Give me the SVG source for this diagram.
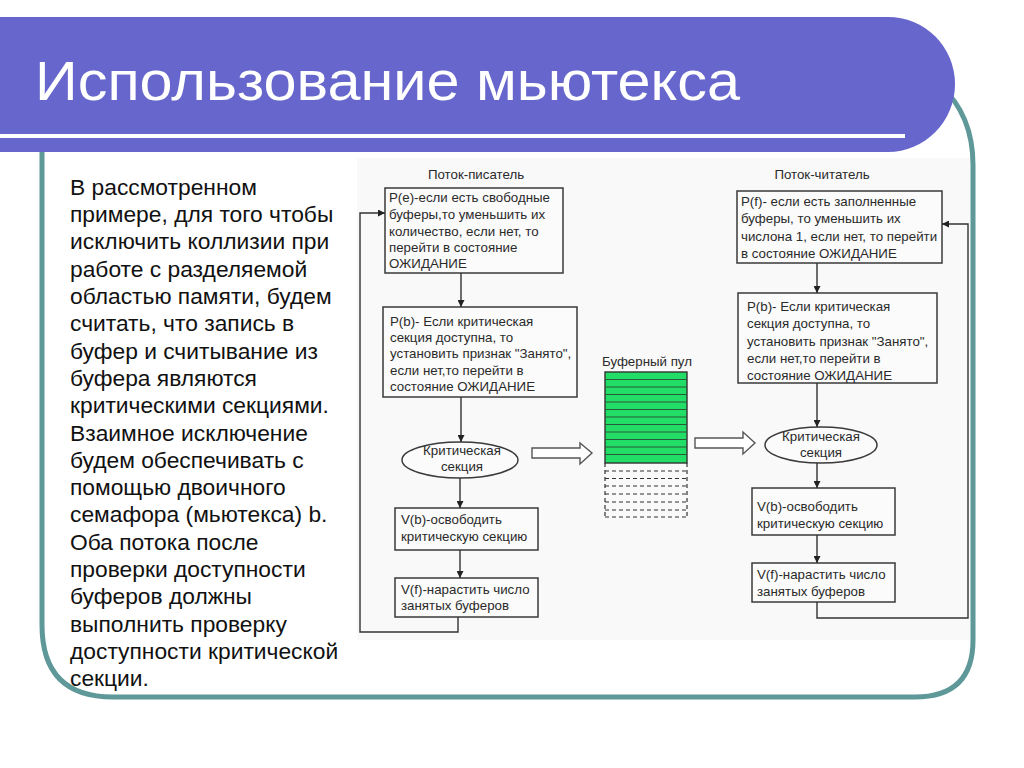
<svg xmlns="http://www.w3.org/2000/svg" width="1024" height="768" viewBox="0 0 1024 768">
<defs>
<style>
.body{font-family:"Liberation Sans",Arial,sans-serif;font-size:22.8px;fill:#111}
.t{font-family:"Liberation Sans",Arial,sans-serif;font-size:13.3px;fill:#2a2a2a}
.box{fill:#fbfbfb;stroke:#3a3a3a;stroke-width:1.5}
.ln{fill:none;stroke:#333;stroke-width:1.4}
.blk{fill:#fff;stroke:#555;stroke-width:1.4}
.dash{stroke:#333;stroke-width:1.2;stroke-dasharray:4,3;fill:none}
</style>
<marker id="ah" viewBox="0 0 10 10" refX="10" refY="5" markerWidth="7" markerHeight="7" markerUnits="userSpaceOnUse" orient="auto">
<path d="M0,0 L10,5 L0,10 Z" fill="#222"/>
</marker>
</defs>
<rect width="1024" height="768" fill="#fff"/>
<g id="frame">
<path d="M42,152 L42,625 Q42,697 113,697 L915,697 Q973,697 973,640 L973,165 Q973,115 940,85" fill="none" stroke="#5f9898" stroke-width="5"/>
</g>
<g id="banner">
<path d="M0,17 L888,17 A67,67 0 0 1 955,84 A67,68 0 0 1 888,152 L0,152 Z" fill="#6666cc"/>
<rect x="0" y="134" width="905" height="4" fill="#fff"/>
<text x="35" y="100" font-family="'Liberation Sans',Arial,sans-serif" font-size="55" fill="#fff" textLength="705" lengthAdjust="spacingAndGlyphs">Использование мьютекса</text>
</g>
<g id="bodytext" class="body">
<text x="70" y="195">В рассмотренном</text>
<text x="70" y="222">примере, для того чтобы</text>
<text x="70" y="249">исключить коллизии при</text>
<text x="70" y="277">работе с разделяемой</text>
<text x="70" y="304">областью памяти, будем</text>
<text x="70" y="331">считать, что запись в</text>
<text x="70" y="359">буфер и считывание из</text>
<text x="70" y="386">буфера являются</text>
<text x="70" y="413">критическими секциями.</text>
<text x="70" y="441">Взаимное исключение</text>
<text x="70" y="468">будем обеспечивать с</text>
<text x="70" y="495">помощью двоичного</text>
<text x="70" y="522">семафора (мьютекса) b.</text>
<text x="70" y="550">Оба потока после</text>
<text x="70" y="577">проверки доступности</text>
<text x="70" y="604">буферов должны</text>
<text x="70" y="632">выполнить проверку</text>
<text x="70" y="659">доступности критической</text>
<text x="70" y="686">секции.</text>
</g>
<rect x="357" y="158" width="613" height="482" fill="#f9f9f9"/>
<g id="headers" class="t">
<text x="476" y="179" text-anchor="middle">Поток-писатель</text>
<text x="822" y="179" text-anchor="middle">Поток-читатель</text>
</g>
<g id="w1">
<rect class="box" x="385" y="188" width="178" height="85"/>
<text class="t"><tspan x="389" y="202">P(e)-если есть свободные</tspan><tspan x="389" y="219">буферы,то уменьшить их</tspan><tspan x="389" y="236">количество, если нет, то</tspan><tspan x="389" y="252">перейти в состояние</tspan><tspan x="389" y="268">ОЖИДАНИЕ</tspan></text>
</g>
<g id="w2">
<rect class="box" x="383" y="307" width="194" height="90"/>
<text class="t"><tspan x="390" y="326">P(b)- Если критическая</tspan><tspan x="390" y="342">секция доступна, то</tspan><tspan x="390" y="358">установить признак "Занято",</tspan><tspan x="390" y="375">если нет,то перейти в</tspan><tspan x="390" y="391">состояние ОЖИДАНИЕ</tspan></text>
</g>
<g id="w3">
<ellipse cx="460" cy="460" rx="58" ry="18" fill="#fbfbfb" stroke="#3a3a3a" stroke-width="1.5"/>
<text class="t" text-anchor="middle"><tspan x="462" y="455">Критическая</tspan><tspan x="462" y="471">секция</tspan></text>
</g>
<g id="w4">
<rect class="box" x="395" y="508" width="143" height="42"/>
<text class="t"><tspan x="401" y="524">V(b)-освободить</tspan><tspan x="401" y="541">критическую секцию</tspan></text>
</g>
<g id="w5">
<rect class="box" x="395" y="578" width="143" height="39"/>
<text class="t"><tspan x="401" y="594">V(f)-нарастить число</tspan><tspan x="401" y="610">занятых буферов</tspan></text>
</g>
<g id="pool">
<text class="t" x="647" y="366" text-anchor="middle">Буферный пул</text>
<rect x="605" y="372" width="82" height="91" fill="#22dd66" stroke="#333" stroke-width="1.4"/>
<path d="M605,379.5H687M605,387H687M605,394.5H687M605,402H687M605,409.5H687M605,417H687M605,424.5H687M605,432H687M605,439.5H687M605,447H687M605,454.5H687" stroke="#2a5a36" stroke-width="1.2"/>
<path class="dash" d="M605,471H687M605,478.5H687M605,486H687M605,494H687M605,502H687M605,510H687M605,517H687M605,463V517M687,463V517"/>
</g>
<g id="r1">
<rect class="box" x="737" y="191" width="205" height="72"/>
<text class="t"><tspan x="741" y="206">P(f)- если есть заполненные</tspan><tspan x="741" y="223">буферы, то уменьшить их</tspan><tspan x="741" y="241">числона 1, если нет, то перейти</tspan><tspan x="741" y="258">в состояние ОЖИДАНИЕ</tspan></text>
</g>
<g id="r2">
<rect class="box" x="738" y="293" width="199" height="90"/>
<text class="t"><tspan x="747" y="311">P(b)- Если критическая</tspan><tspan x="747" y="328">секция доступна, то</tspan><tspan x="747" y="346">установить признак "Занято",</tspan><tspan x="747" y="363">если нет,то перейти в</tspan><tspan x="747" y="380">состояние ОЖИДАНИЕ</tspan></text>
</g>
<g id="r3">
<ellipse cx="821" cy="445" rx="56" ry="18" fill="#fbfbfb" stroke="#3a3a3a" stroke-width="1.5"/>
<text class="t" text-anchor="middle"><tspan x="821" y="441">Критическая</tspan><tspan x="821" y="457">секция</tspan></text>
</g>
<g id="r4">
<rect class="box" x="752" y="488" width="143" height="47"/>
<text class="t"><tspan x="757" y="511">V(b)-освободить</tspan><tspan x="757" y="528">критическую секцию</tspan></text>
</g>
<g id="r5">
<rect class="box" x="752" y="563" width="143" height="39"/>
<text class="t"><tspan x="757" y="579">V(f)-нарастить число</tspan><tspan x="757" y="596">занятых буферов</tspan></text>
</g>
<g id="connectors">
<path class="ln" d="M461,273V307" marker-end="url(#ah)"/>
<path class="ln" d="M461,397V442" marker-end="url(#ah)"/>
<path class="ln" d="M460,478V508" marker-end="url(#ah)"/>
<path class="ln" d="M460,550V578" marker-end="url(#ah)"/>
<path class="ln" d="M458,617V632H360V213H385" marker-end="url(#ah)"/>
<path class="ln" d="M817,263V293" marker-end="url(#ah)"/>
<path class="ln" d="M817,383V427" marker-end="url(#ah)"/>
<path class="ln" d="M817,463V488" marker-end="url(#ah)"/>
<path class="ln" d="M817,535V563" marker-end="url(#ah)"/>
<path class="ln" d="M817,602V618H968V224H942" marker-end="url(#ah)"/>
<path class="blk" d="M532,448H580V443L592,453L580,464V458H532Z"/>
<path class="blk" d="M695,438H743V432L755,443L743,454V448H695Z"/>
</g>
</svg>
